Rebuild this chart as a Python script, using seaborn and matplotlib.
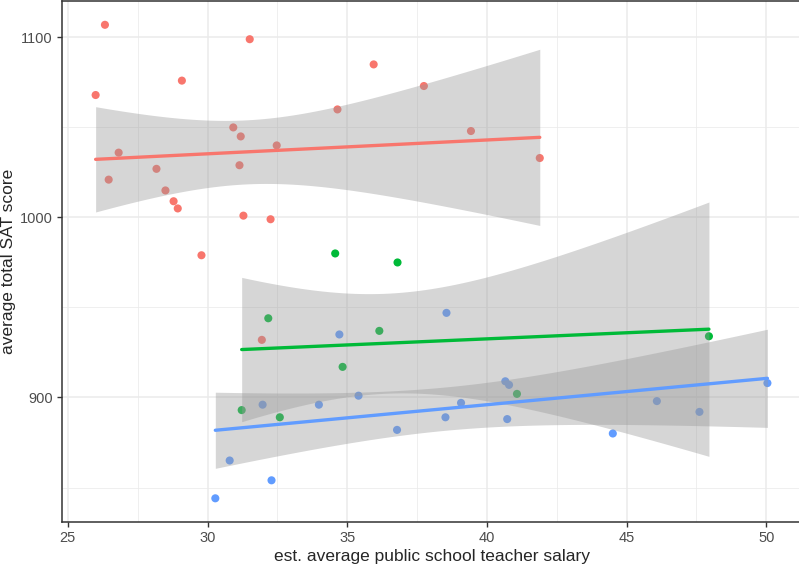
import numpy as np
import pandas as pd
import matplotlib
matplotlib.use("Agg")
import matplotlib.pyplot as plt
import seaborn as sns
from matplotlib.ticker import MultipleLocator

# teacher salary (k$) and total SAT, per state, split by share of students taking the SAT
low_salary = [31.144, 28.934, 29.783, 39.431, 31.511, 34.652, 32.257, 26.461, 41.895,
              35.948, 26.818, 31.189, 28.785, 30.922, 28.493, 26.327, 28.172, 25.994,
              32.477, 29.082, 31.944, 37.746, 31.285]
low_sat = [1029, 1005, 979, 1048, 1099, 1060, 999, 1021, 1033, 1085, 1036, 1045, 1009,
           1050, 1015, 1107, 1027, 1068, 1040, 1076, 932, 1073, 1001]

medium_salary = [47.951, 32.175, 41.078, 34.571, 32.588, 34.836, 36.802, 31.223, 36.151]
medium_sat = [934, 944, 902, 980, 889, 917, 975, 893, 937]

high_salary = [50.045, 39.076, 32.291, 38.518, 36.785, 31.972, 40.661, 40.795, 34.720,
               46.087, 47.612, 30.793, 38.555, 44.510, 40.729, 30.279, 35.406, 33.987]
high_sat = [908, 897, 854, 889, 882, 896, 909, 907, 935, 898, 892, 865, 947, 880, 888,
            844, 901, 896]

groups = ["low", "medium", "high"]
colors = {"low": "#F8766D", "medium": "#00BA38", "high": "#619CFF"}

df = pd.concat([
    pd.DataFrame({"salary": low_salary, "sat": low_sat, "frac": "low"}),
    pd.DataFrame({"salary": medium_salary, "sat": medium_sat, "frac": "medium"}),
    pd.DataFrame({"salary": high_salary, "sat": high_sat, "frac": "high"}),
])

sns.set_theme(style="white")
plt.rcParams["font.family"] = ["Liberation Sans", "DejaVu Sans"]

fig = plt.figure(figsize=(7.99, 5.64), dpi=100)
ax = fig.add_axes([0.0776, 0.0745, 0.925, 0.9235])

sns.scatterplot(data=df, x="salary", y="sat", hue="frac", palette=colors,
                s=34, linewidth=0, legend=False, ax=ax, zorder=2)

# t-based 95% confidence band like geom_smooth(method = "lm")
t975 = {7: 2.3646, 16: 2.1199, 21: 2.0796}
z = 3
for g in groups:
    sub = df[df["frac"] == g]
    x = sub["salary"].to_numpy()
    y = sub["sat"].to_numpy()
    n = len(x)
    slope, intercept = np.polyfit(x, y, 1)
    resid = y - (intercept + slope * x)
    s = np.sqrt((resid ** 2).sum() / (n - 2))
    grid = np.linspace(x.min(), x.max(), 80)
    se = s * np.sqrt(1 / n + (grid - x.mean()) ** 2 / ((x - x.mean()) ** 2).sum())
    fit = intercept + slope * grid
    ax.fill_between(grid, fit - t975[n - 2] * se, fit + t975[n - 2] * se,
                    color="#999999", alpha=0.4, linewidth=0, zorder=z)
    sns.regplot(data=sub, x="salary", y="sat", scatter=False, ci=None, ax=ax,
                line_kws={"color": colors[g], "lw": 2.4, "zorder": z + 1})
    z += 2

ax.set_xlim(24.79, 51.25)
ax.set_ylim(830.85, 1120.15)
ax.xaxis.set_major_locator(MultipleLocator(5))
ax.xaxis.set_minor_locator(MultipleLocator(2.5))
ax.yaxis.set_major_locator(MultipleLocator(100))
ax.yaxis.set_minor_locator(MultipleLocator(50))
ax.grid(which="major", color="#EBEBEB", lw=1.1, zorder=0)
ax.grid(which="minor", color="#EBEBEB", lw=0.55, zorder=0)
ax.set_axisbelow(True)
ax.tick_params(which="major", direction="out", length=3.5, width=1.0, color="#333333",
               labelsize=10.5, labelcolor="#4D4D4D", pad=3, bottom=True, left=True)
ax.tick_params(which="minor", length=0)
for sp in ax.spines.values():
    sp.set_color("#333333")
    sp.set_linewidth(1.1)

ax.set_xlabel("est. average public school teacher salary", fontsize=12.5, labelpad=3)
ax.set_ylabel("average total SAT score", fontsize=12.5, labelpad=3)

fig.savefig("out.png", dpi=100)
